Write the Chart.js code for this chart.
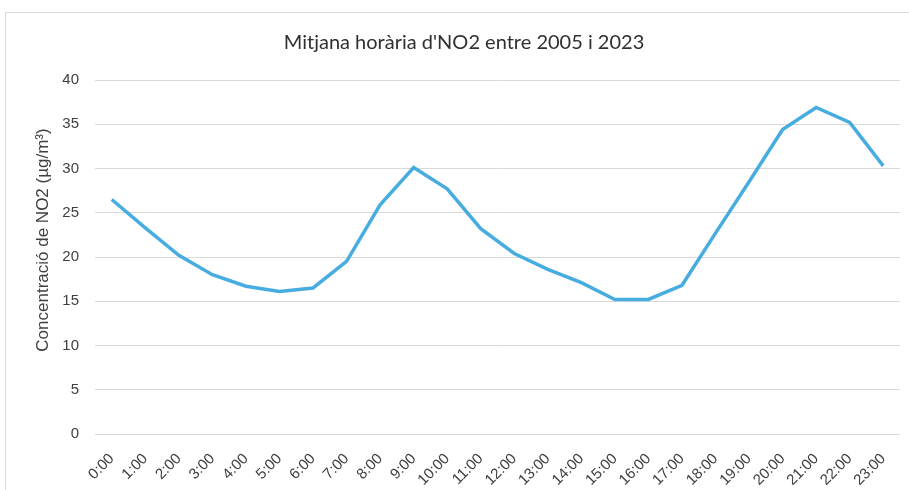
<!DOCTYPE html>
<html>
<head>
<meta charset="utf-8">
<script src="https://cdn.jsdelivr.net/npm/chart.js@4.4.1/dist/chart.umd.min.js"></script>
<style>
  html, body { margin: 0; padding: 0; background: #ffffff; }
  #wrap { position: relative; width: 909px; height: 490px; overflow: hidden; }
  #frame { position: absolute; left: 5px; top: 12px; width: 940px; height: 520px; border: 1px solid #d9d9d9; box-sizing: border-box; }
  canvas { position: absolute; left: 0; top: 0; }
</style>
</head>
<body>
<div id="wrap">
  <div id="frame"></div>
  <canvas id="c" width="909" height="490"></canvas>
</div>
<script>
const hours = ["0:00","1:00","2:00","3:00","4:00","5:00","6:00","7:00","8:00","9:00","10:00","11:00",
               "12:00","13:00","14:00","15:00","16:00","17:00","18:00","19:00","20:00","21:00","22:00","23:00"];
const no2 = [26.5, 23.3, 20.2, 18.0, 16.7, 16.1, 16.5, 19.5, 25.9, 30.1, 27.7, 23.2,
             20.4, 18.6, 17.1, 15.2, 15.2, 16.8, 22.7, 28.5, 34.4, 36.9, 35.2, 30.3];
const yTicks = [0, 5, 10, 15, 20, 25, 30, 35, 40];
const chartTitle = "Mitjana horària d'NO2 entre 2005 i 2023";
const yTitle = "Concentració de NO2 (µg/m³)";

const yTitlePlugin = {
  id: 'yTitlePlugin',
  afterDraw(chart) {
    const ctx = chart.ctx;
    ctx.save();
    ctx.translate(43, 240);
    ctx.rotate(-Math.PI / 2);
    ctx.font = '17px "Liberation Sans", Arial, sans-serif';
    ctx.fillStyle = '#404040';
    ctx.textAlign = 'center';
    ctx.textBaseline = 'middle';
    ctx.fillText(yTitle, 0, 0);
    ctx.restore();
  }
};

new Chart(document.getElementById('c'), {
  type: 'line',
  data: {
    labels: hours,
    datasets: [{
      data: no2,
      borderColor: '#47ade0',
      borderWidth: 3.5,
      pointRadius: 0,
      tension: 0,
      fill: false
    }]
  },
  options: {
    responsive: false,
    animation: false,
    layout: { padding: { left: 28, right: 9, top: 0, bottom: 0 } },
    plugins: {
      legend: { display: false },
      tooltip: { enabled: false },
      title: {
        display: true,
        text: chartTitle,
        color: '#303030',
        font: { family: 'Lato, "Liberation Sans", sans-serif', size: 20, weight: 'normal' },
        padding: { top: 31, bottom: 25 }
      }
    },
    scales: {
      x: {
        offset: true,
        grid: { display: false },
        border: { display: false },
        ticks: {
          color: '#404040',
          font: { family: '"Liberation Sans", Arial, sans-serif', size: 15 },
          maxRotation: 45, minRotation: 45, autoSkip: false,
          padding: 8
        },
        afterFit(s) { s.height = 56; }
      },
      y: {
        min: 0, max: 40,
        afterBuildTicks(s) { s.ticks = yTicks.map(v => ({ value: v })); },
        grid: { color: '#d9d9d9', lineWidth: 1, drawTicks: false },
        border: { display: false },
        ticks: {
          color: '#404040',
          font: { family: '"Liberation Sans", Arial, sans-serif', size: 15 },
          padding: 16
        },
        afterFit(s) { s.width = 67; }
      }
    }
  },
  plugins: [yTitlePlugin]
});
</script>
</body>
</html>
